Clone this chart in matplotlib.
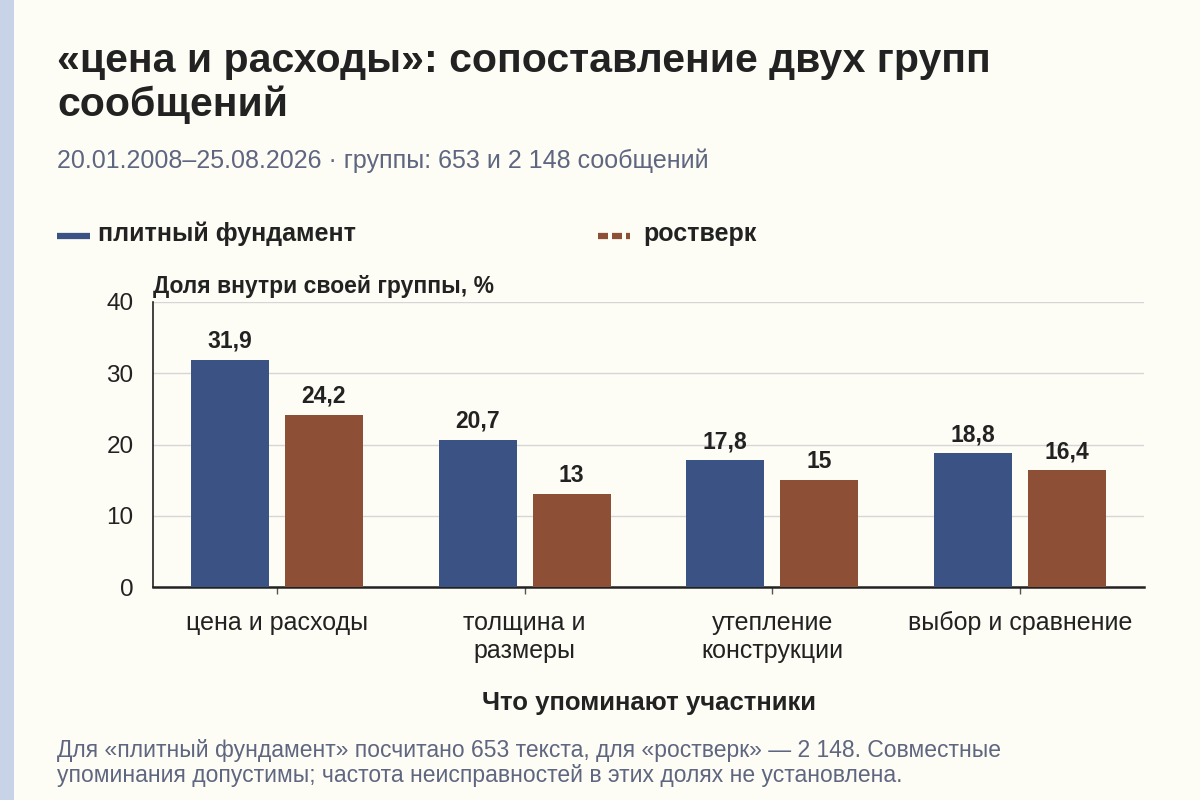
import matplotlib
matplotlib.use("Agg")
import matplotlib.pyplot as plt
from matplotlib.lines import Line2D
from matplotlib.patches import Rectangle
import numpy as np

plt.rcParams['font.family'] = ['Liberation Sans', 'DejaVu Sans']

categories = ["цена и расходы", "толщина и\nразмеры", "утепление\nконструкции", "выбор и сравнение"]
series_names = ["плитный фундамент", "ростверк"]
plit = [31.9, 20.7, 17.8, 18.8]
rost = [24.2, 13.0, 15.0, 16.4]
yticks = [0, 10, 20, 30, 40]

title = "«цена и расходы»: сопоставление двух групп\nсообщений"
subtitle = "20.01.2008–25.08.2026 · группы: 653 и 2 148 сообщений"
ylabel = "Доля внутри своей группы, %"
xlabel = "Что упоминают участники"
footnote = ("Для «плитный фундамент» посчитано 653 текста, для «ростверк» — 2 148. Совместные\n"
            "упоминания допустимы; частота неисправностей в этих долях не установлена.")

BG = "#fdfcf5"
BLUE = "#3b5285"
BROWN = "#8d4f36"
DARK = "#222222"
MUTED = "#5e6680"

W, H = 1200, 800
fig = plt.figure(figsize=(12, 8), dpi=100, facecolor=BG)

def fx(px):
    return px / W

def fy(py):
    return 1 - py / H

# left stripe
fig.patches.append(Rectangle((0, 0), fx(14), 1, transform=fig.transFigure,
                             facecolor="#c8d3e8", edgecolor="none", zorder=0))

ax = fig.add_axes([fx(153), fy(587), fx(1144 - 153), fy(302) - fy(587)])
ax.set_facecolor(BG)

x = np.arange(len(categories))
bw = 0.315
off = 0.19
b1 = ax.bar(x - off, plit, bw, color=BLUE, zorder=3)
b2 = ax.bar(x + off, rost, bw, color=BROWN, zorder=3)

def fmt(v):
    s = f"{v:.1f}".replace(".", ",")
    if s.endswith(",0"):
        s = s[:-2]
    return s

for bars, vals in ((b1, plit), (b2, rost)):
    for r, v in zip(bars, vals):
        ax.annotate(fmt(v), (r.get_x() + r.get_width() / 2, v), xytext=(0, 5),
                    textcoords="offset points", ha="center", va="bottom",
                    fontsize=16.5, fontweight="bold", color=DARK, zorder=4)

ax.set_xlim(-0.5, len(categories) - 0.5)
ax.set_ylim(0, 40)
ax.set_yticks(yticks)
ax.set_yticklabels([str(t) for t in yticks])
ax.set_xticks(x)
ax.set_xticklabels(categories, linespacing=1.22)
ax.tick_params(axis="y", length=0, pad=14, labelsize=17.5, labelcolor=DARK)
ax.tick_params(axis="x", length=5, width=1, color="#555555", pad=12, labelsize=18, labelcolor=DARK)
ax.grid(axis="y", color="#d6d6d6", linewidth=1, zorder=0)
ax.set_axisbelow(True)
for s in ("top", "right"):
    ax.spines[s].set_visible(False)
ax.spines["left"].set_color(DARK)
ax.spines["left"].set_linewidth(1.2)
ax.spines["bottom"].set_color(DARK)
ax.spines["bottom"].set_linewidth(1.8)

ax.set_xlabel(xlabel, fontsize=18.5, fontweight="bold", color=DARK, labelpad=20)

# y label at top-left
fig.text(fx(153), fy(293), ylabel, fontsize=16.5, fontweight="bold", color=DARK,
         ha="left", va="baseline")

# title, subtitle
fig.text(fx(57), fy(116), title, fontsize=29.5, fontweight="bold", color=DARK,
         ha="left", va="baseline", linespacing=1.18)
fig.text(fx(57), fy(168), subtitle, fontsize=18, color=MUTED, ha="left", va="baseline")

# legend
fig.lines.append(Line2D([fx(57), fx(90)], [fy(236), fy(236)], transform=fig.transFigure,
                        color=BLUE, linewidth=4.5, solid_capstyle="butt"))
fig.text(fx(98), fy(241), series_names[0], fontsize=18, fontweight="bold", color=DARK,
         ha="left", va="baseline")
fig.lines.append(Line2D([fx(598), fx(630)], [fy(236), fy(236)], transform=fig.transFigure,
                        color=BROWN, linewidth=4.5, linestyle=(0, (1.6, 0.64)),
                        solid_capstyle="butt", dash_capstyle="butt"))
fig.text(fx(643), fy(241), series_names[1], fontsize=18, fontweight="bold", color=DARK,
         ha="left", va="baseline")

# footnote
fig.text(fx(57), fy(782), footnote, fontsize=16.5, color=MUTED, ha="left", va="baseline",
         linespacing=1.12)

fig.savefig("out.png", dpi=100, facecolor=BG)
